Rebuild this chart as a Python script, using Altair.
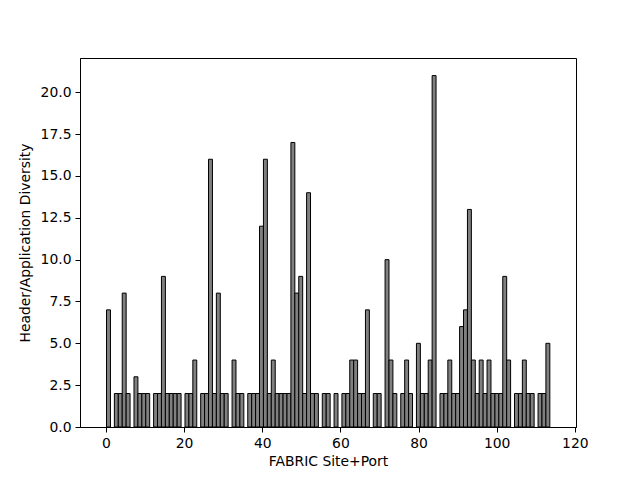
import altair as alt
import pandas as pd

# Header/application diversity per FABRIC site+port index
diversity = [
    7, 0, 2, 2, 8, 2, 0, 3, 2, 2,
    2, 0, 2, 2, 9, 2, 2, 2, 2, 0,
    2, 2, 4, 0, 2, 2, 16, 2, 8, 2,
    2, 0, 4, 2, 2, 0, 2, 2, 2, 12,
    16, 2, 4, 2, 2, 2, 2, 17, 8, 9,
    2, 14, 2, 2, 0, 2, 2, 0, 2, 0,
    2, 2, 4, 4, 2, 2, 7, 0, 2, 2,
    0, 10, 4, 2, 0, 2, 4, 2, 0, 5,
    2, 2, 4, 21, 0, 2, 2, 4, 2, 2,
    6, 7, 13, 4, 2, 4, 2, 4, 2, 2,
    2, 9, 4, 0, 2, 2, 4, 2, 2, 0,
    2, 2, 5,
]
site_port = list(range(len(diversity)))

x_ticks = [0, 20, 40, 60, 80, 100, 120]
y_ticks = [0, 2.5, 5, 7.5, 10, 12.5, 15, 17.5, 20]

df = pd.DataFrame({"site": site_port, "diversity": diversity})

FONT = "DejaVu Sans"

chart = (
    alt.Chart(df)
    .transform_filter("datum.diversity > 0")
    .transform_calculate(x0="datum.site * 1.004 + 0.15", x1="datum.site * 1.004 + 1.154")
    .mark_rect(fill="#808080", stroke="black", strokeWidth=1, opacity=1)
    .encode(
        x=alt.X(
            "x0:Q",
            scale=alt.Scale(domain=[-6.64, 120.3], nice=False, zero=False),
            axis=alt.Axis(
                values=x_ticks, format="d", title="FABRIC Site+Port", grid=False,
                tickColor="black", domainColor="black", labelColor="black",
                titleColor="black", tickSize=5, labelPadding=4, titlePadding=5,
                labelFontSize=13.9, titleFontSize=13.9, titleFontWeight="normal",
                labelFont=FONT, titleFont=FONT, tickWidth=1, domainWidth=1,
            ),
        ),
        x2="x1:Q",
        y=alt.Y(
            "diversity:Q",
            scale=alt.Scale(domain=[0, 22.05], nice=False),
            axis=alt.Axis(
                values=y_ticks, format=".1f", title="Header/Application Diversity",
                grid=False, tickColor="black", domainColor="black",
                labelColor="black", titleColor="black", tickSize=5,
                labelPadding=4, titlePadding=8, labelFontSize=13.9,
                titleFontSize=13.9, titleFontWeight="normal", labelFont=FONT,
                titleFont=FONT, tickWidth=1, domainWidth=1,
            ),
        ),
        y2=alt.datum(0),
    )
    .properties(
        width=496,
        height=369,
        autosize=alt.AutoSizeParams(type="none"),
        padding={"left": 72, "top": 50, "right": 56, "bottom": 45},
    )
    .configure_view(stroke="black", strokeWidth=1)
)

chart.save("out.html", embed_options={"renderer": "svg", "actions": False})
